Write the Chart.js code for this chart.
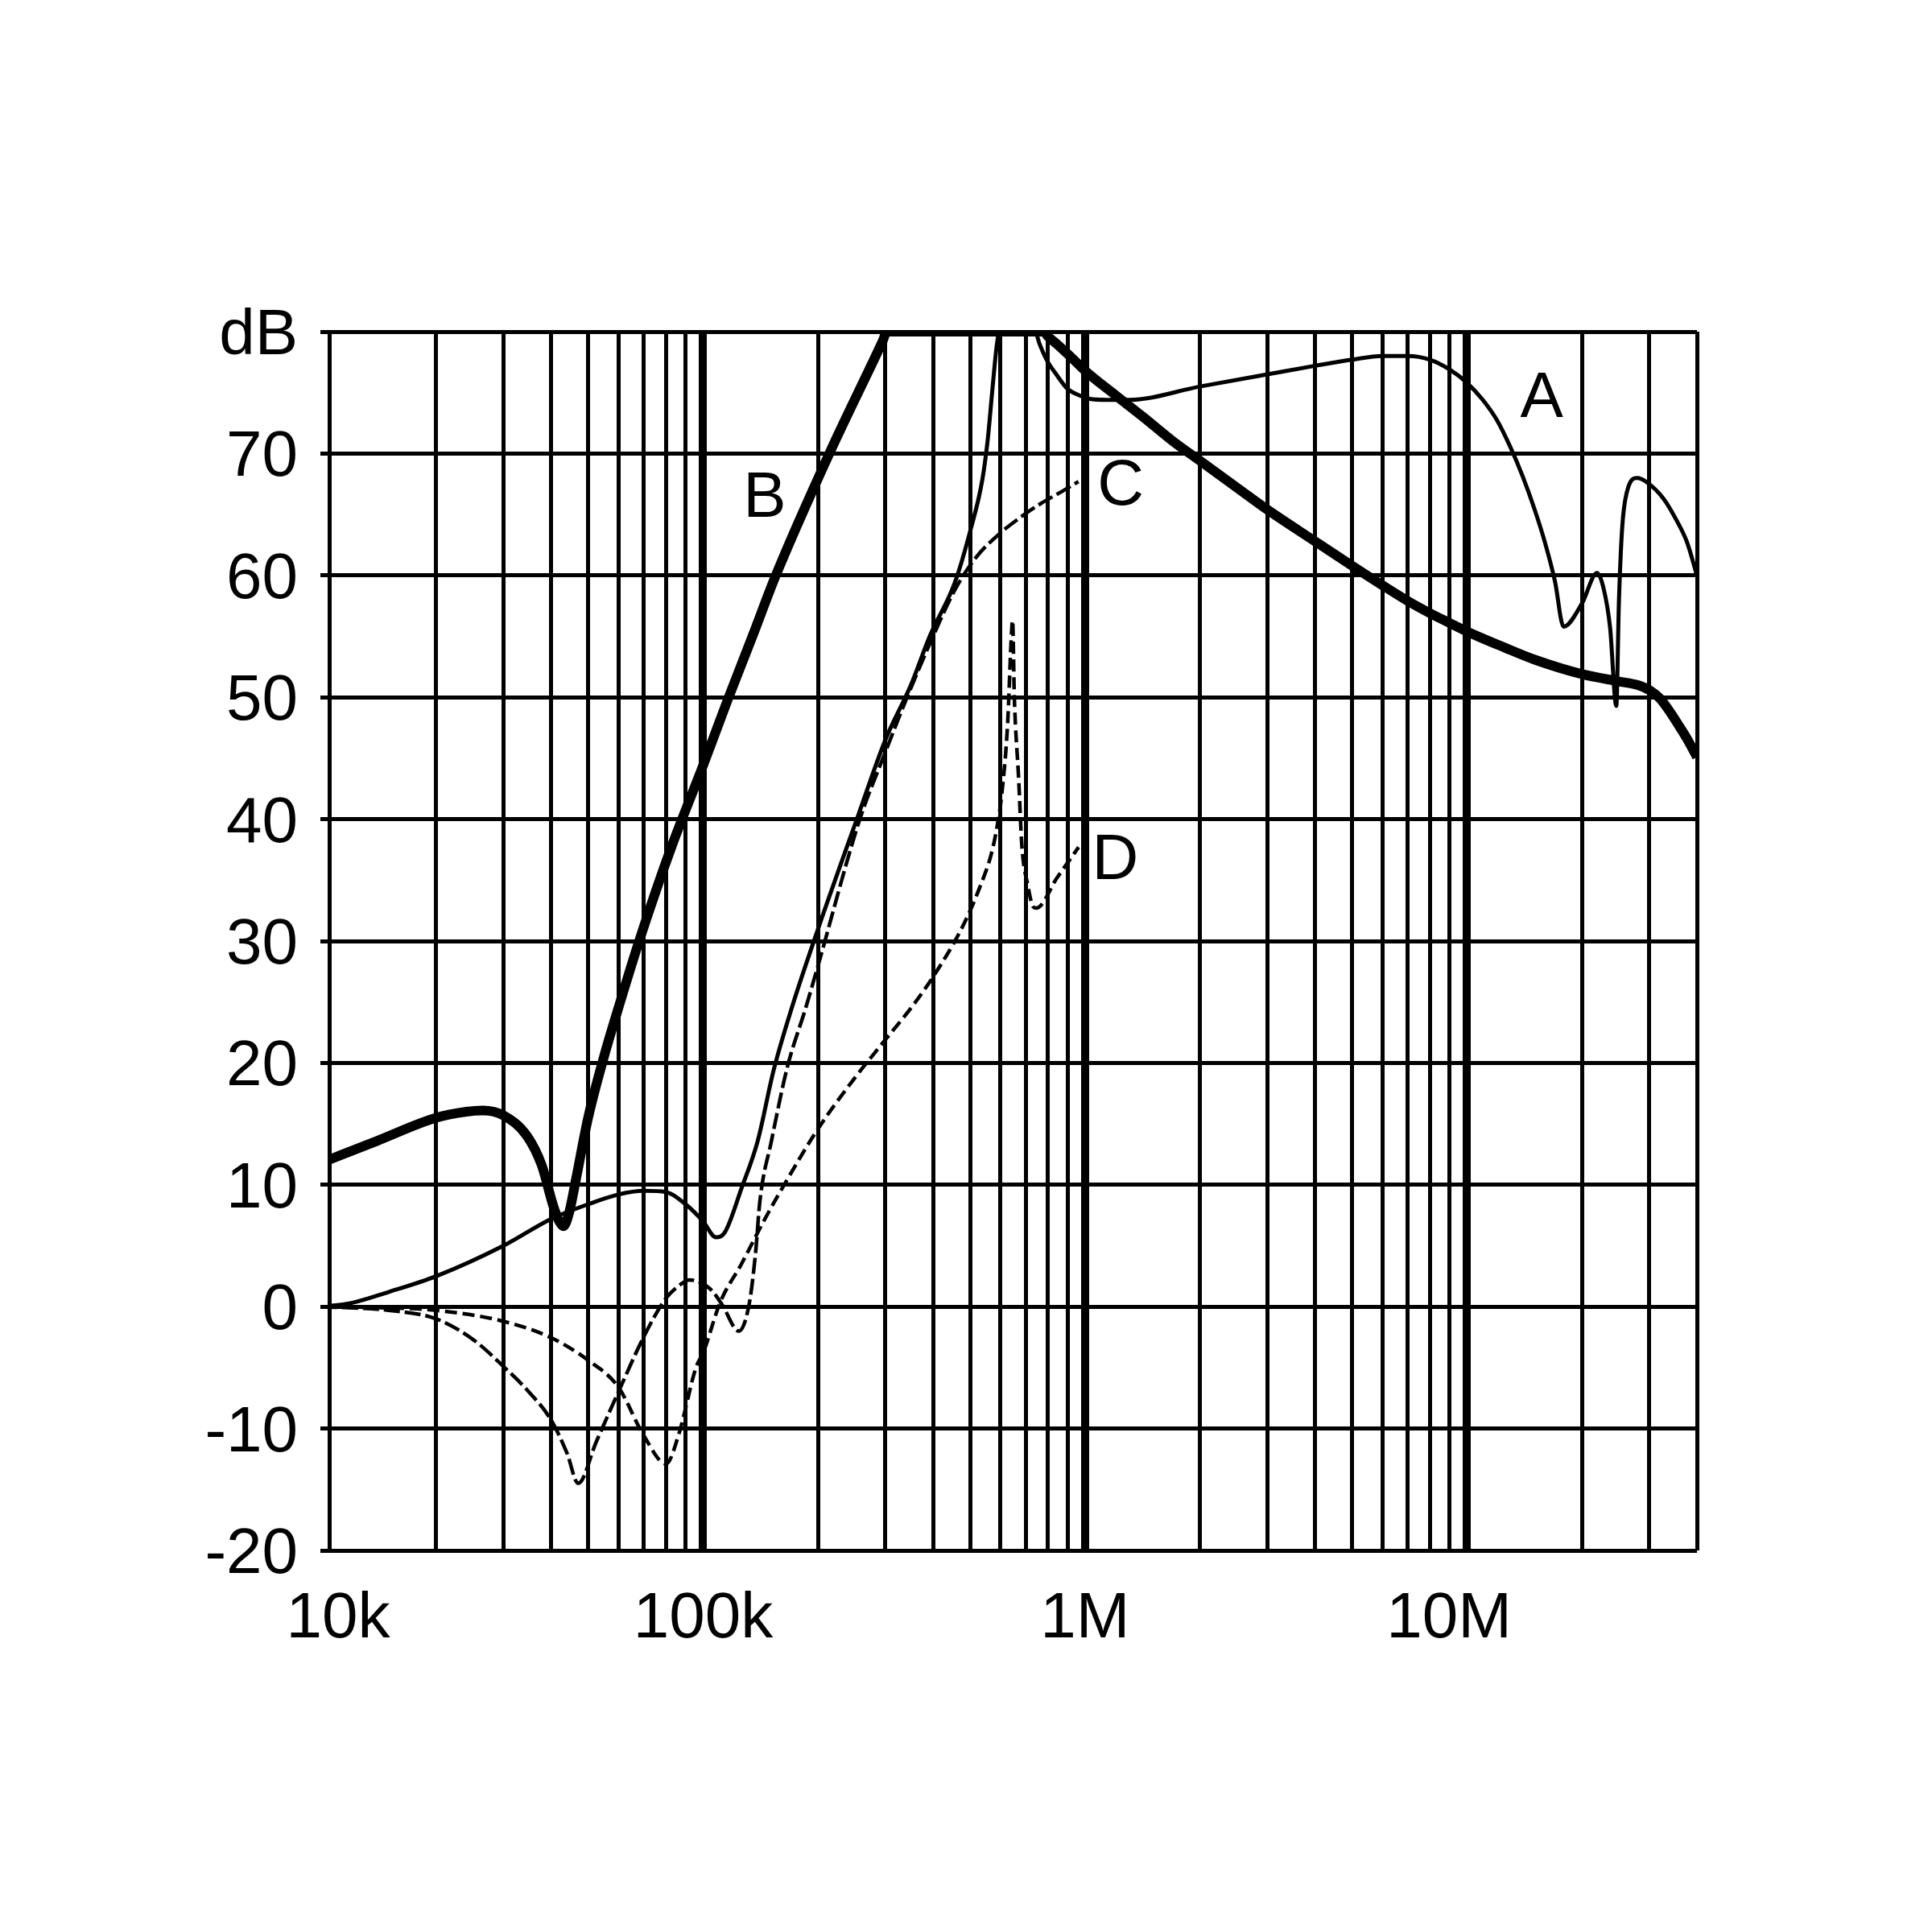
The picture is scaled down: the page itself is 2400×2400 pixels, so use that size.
<!DOCTYPE html>
<html>
<head>
<meta charset="utf-8">
<script src="https://cdn.jsdelivr.net/npm/chart.js@4/dist/chart.umd.min.js"></script>
<style>
  html, body { margin: 0; padding: 0; background: #ffffff; }
  canvas { display: block; }
</style>
</head>
<body>
<canvas id="c" width="2400" height="2400" style="width:2400px;height:2400px"></canvas>
<script>
// ---------- data (frequency in Hz, level in dB) ----------
const freqA = [10000, 12000, 15000, 20000, 30000, 40000, 50000, 60000, 70000, 80000, 90000, 100000, 108000, 114000, 126000, 139000, 153000, 171000, 200000, 256000, 300000, 350000, 392000, 456000, 500000, 538000, 556000, 573000, 587000, 597000, 740000, 760000, 793000, 845000, 900000, 962000, 1025000, 1140000, 1300000, 2000000, 3000000, 4000000, 5000000, 6000000, 7000000, 8000000, 9000000, 10000000, 11000000, 12000000, 13000000, 14000000, 15000000, 16000000, 17000000, 17900000, 20000000, 21900000, 22800000, 23700000, 24600000, 25000000, 25500000, 26200000, 27900000, 29400000, 32700000, 35400000, 37700000, 40000000];
const dbA   = [0, 0.3, 1.2, 2.5, 5.0, 7.2, 8.4, 9.2, 9.5, 9.4, 8.4, 7.0, 5.7, 6.1, 9.7, 13.6, 19.4, 24.6, 31.0, 40.5, 46.5, 51.0, 55.0, 59.4, 63.6, 67.8, 71.1, 75.5, 78.8, 80, 80, 79.0, 77.7, 76.4, 75.3, 74.8, 74.5, 74.4, 74.4, 75.5, 76.5, 77.2, 77.7, 78.0, 78.0, 77.7, 76.9, 75.8, 74.4, 72.7, 70.5, 68.1, 65.5, 62.7, 59.5, 55.8, 57.7, 60.2, 58.9, 55.7, 49.3, 58.0, 64.0, 66.8, 68.0, 67.7, 66.3, 64.5, 62.7, 60.0];

const freqB = [10000, 14000, 20000, 24000, 26500, 30000, 34600, 37800, 40500, 42000, 43100, 44500, 46500, 50000, 55000, 60000, 68000, 82600, 100000, 116000, 135000, 155000, 214000, 295000, 303000, 500000, 780000, 800000, 850000, 920000, 1000000, 1200000, 1420000, 1700000, 2000000, 2500000, 3000000, 4000000, 5000000, 6000000, 7000000, 8000000, 9000000, 10000000, 12500000, 15000000, 20000000, 25000000, 28000000, 30000000, 32000000, 34000000, 36000000, 38000000, 40000000];
const dbB   = [11.8, 13.6, 15.5, 16.0, 16.1, 15.7, 14.0, 11.6, 8.3, 7.0, 6.6, 7.6, 10.5, 15.5, 20.5, 24.5, 30.0, 37.7, 44.4, 49.8, 55.1, 60.0, 70.0, 79.2, 80, 80, 80, 79.6, 78.9, 77.9, 76.8, 74.8, 73.0, 71.0, 69.4, 67.2, 65.4, 62.8, 60.8, 59.2, 57.9, 56.9, 56.1, 55.4, 54.1, 53.1, 51.9, 51.3, 51.0, 50.6, 49.9, 48.8, 47.6, 46.4, 45.1];

const freqC = [10000, 15000, 20000, 25000, 30000, 35000, 40000, 44000, 47100, 52500, 60000, 70500, 80000, 88000, 92000, 104000, 112000, 124000, 132000, 137000, 141000, 151000, 166000, 186000, 200000, 256000, 300000, 342000, 400000, 456000, 519000, 591000, 673000, 766000, 871000, 961000];
const dbC   = [0, -0.3, -1.0, -2.7, -4.9, -7.0, -9.3, -12.0, -14.5, -11.1, -7.0, -2.25, 0.7, 1.9, 2.2, 1.5, 0.2, -2.0, 0.2, 4.2, 8.8, 13.6, 19.6, 24.6, 28.0, 39.8, 45.5, 50.0, 55.0, 58.8, 61.5, 63.3, 64.7, 65.9, 66.9, 67.7];

const freqD = [10000, 15000, 20000, 30000, 40000, 50000, 60000, 70000, 80000, 86300, 95900, 100000, 111000, 126000, 144000, 163000, 200000, 250000, 300000, 360000, 420000, 480000, 530000, 570000, 590000, 605000, 627000, 640000, 646000, 653000, 670000, 683000, 708000, 732000, 745000, 845000, 962000];
const dbD   = [0, -0.1, -0.3, -1.2, -2.55, -4.4, -6.6, -10.6, -12.9, -10.5, -4.95, -3.8, 0.4, 3.5, 7.0, 10.0, 14.6, 18.8, 21.9, 25.0, 28.1, 31.3, 34.4, 37.3, 39.6, 42.0, 47.8, 54.4, 56.3, 50.0, 43.4, 37.9, 34.6, 32.8, 32.7, 35.2, 37.7];

// curve name labels (positions in data units)
const curveNames  = ['A', 'B', 'C', 'D'];
const curveNameX  = [15700000, 145000, 1240000, 1200000];
const curveNameY  = [74.7, 66.5, 67.5, 36.8];

// axes (the drawn grid starts a little above 10k, where the reference puts its "10k" label)
const xMin = 10500, xMax = 40000000;
const yMin = -20, yMax = 80, yStep = 10;
const xDecades = [10000, 100000, 1000000, 10000000];
const xMultiples = [1, 2, 3, 4, 5, 6, 7, 8, 9];
const xLabelValues = [10500, 100000, 1000000, 10000000];
const xLabelTexts  = [' 10k', '100k', '1M', '10M  '];
const thickLines   = [100000, 1000000, 10000000];
const yTopLabel = 'dB';

// ---------- build ----------
const xGrid = [xMin];
xDecades.forEach(d => xMultiples.forEach(m => { const v = m * d; if (v > xMin && v <= xMax) xGrid.push(v); }));

function pts(fx, fy) { return fx.map((x, i) => ({ x: x, y: fy[i] })); }

Chart.defaults.font.family = '"Liberation Sans", Arial, Helvetica, sans-serif';
Chart.defaults.color = '#000';

const nameLabels = {
  id: 'nameLabels',
  afterDatasetsDraw(chart) {
    const ctx = chart.ctx;
    const xs = chart.scales.x, ys = chart.scales.y;
    ctx.save();
    ctx.fillStyle = '#000';
    ctx.font = '80px "Liberation Sans", Arial, sans-serif';
    ctx.textAlign = 'center';
    ctx.textBaseline = 'middle';
    curveNames.forEach((n, i) => {
      ctx.fillText(n, xs.getPixelForValue(curveNameX[i]), ys.getPixelForValue(curveNameY[i]) + 4);
    });
    ctx.restore();
  }
};

const common = { pointRadius: 0, borderColor: '#000', fill: false, cubicInterpolationMode: 'monotone', borderJoinStyle: 'round', borderCapStyle: 'butt' };

new Chart(document.getElementById('c'), {
  type: 'line',
  data: {
    datasets: [
      Object.assign({ label: 'A', data: pts(freqA, dbA), borderWidth: 5 }, common),
      Object.assign({ label: 'B', data: pts(freqB, dbB), borderWidth: 12 }, common),
      Object.assign({ label: 'C', data: pts(freqC, dbC), borderWidth: 4.5, borderDash: [20, 6] }, common),
      Object.assign({ label: 'D', data: pts(freqD, dbD), borderWidth: 4.5, borderDash: [15, 7] }, common)
    ]
  },
  options: {
    responsive: false,
    devicePixelRatio: 1,
    animation: false,
    layout: { padding: { left: 0, right: 292, top: 412, bottom: 274 } },
    plugins: { legend: { display: false }, tooltip: { enabled: false } },
    scales: {
      x: {
        type: 'logarithmic',
        min: xMin, max: xMax,
        afterBuildTicks: (scale) => { scale.ticks = xGrid.map(v => ({ value: v })); },
        afterFit: (scale) => { scale.height = 200; },
        border: { display: false },
        grid: {
          color: '#000',
          drawTicks: false,
          lineWidth: (c) => (c.tick && thickLines.includes(c.tick.value)) ? 10 : 5
        },
        ticks: {
          autoSkip: false, maxRotation: 0, minRotation: 0,
          padding: 38,
          font: { size: 80 },
          color: '#000',
          callback: (v) => { const k = xLabelValues.indexOf(v); return k >= 0 ? xLabelTexts[k] : ''; }
        }
      },
      y: {
        type: 'linear',
        min: yMin, max: yMax,
        afterFit: (scale) => { scale.width = 409; },
        border: { display: false },
        grid: { color: '#000', lineWidth: 5, drawTicks: true, tickLength: 11, tickWidth: 5, tickColor: '#000' },
        ticks: {
          stepSize: yStep,
          padding: 28,
          labelOffset: 6,
          font: { size: 80 },
          color: '#000',
          callback: (v) => v === yMax ? yTopLabel : String(v)
        }
      }
    }
  },
  plugins: [nameLabels]
});
</script>
</body>
</html>
